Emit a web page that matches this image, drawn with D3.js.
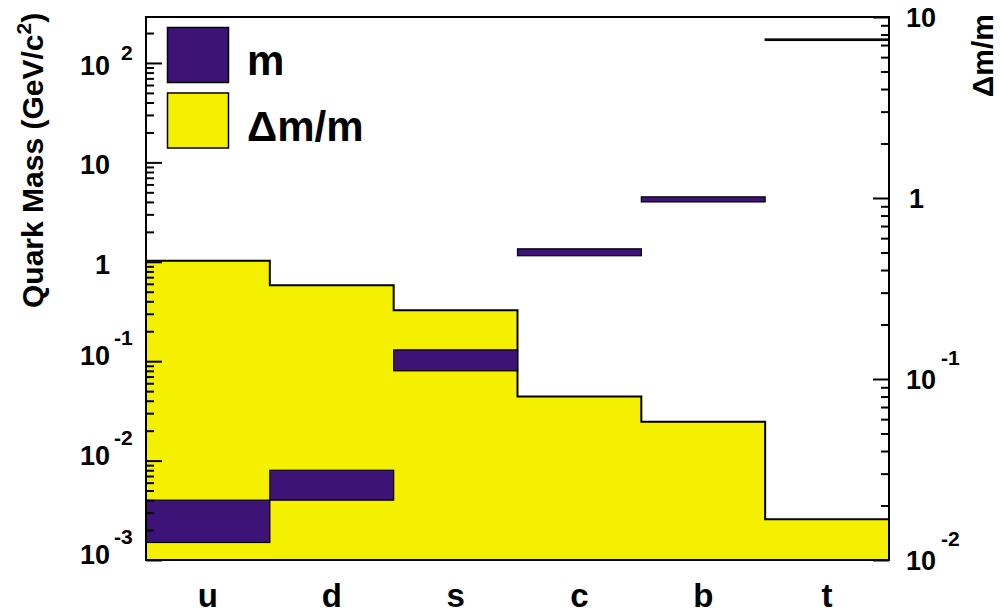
<!DOCTYPE html>
<html>
<head>
<meta charset="utf-8">
<script src="https://cdn.jsdelivr.net/npm/d3@7"></script>
<style>
  body { margin: 0; background: #fff; }
  svg text { font-family: "Liberation Sans", Arial, Helvetica, sans-serif; font-weight: bold; fill: #000; }
</style>
</head>
<body>
<svg width="1000" height="615"></svg>
<script>
// quark data (GeV/c^2)
var quarks = ['u', 'd', 's', 'c', 'b', 't'];
var massLow = [0.0015, 0.004, 0.080, 1.15, 4.0, 168.5];
var massHigh = [0.004, 0.008, 0.130, 1.35, 4.5, 174.3];
var relErr = [0.45, 0.33, 0.24, 0.080, 0.058, 0.0168];
var legendLabels = ['m', '\u0394m/m'];
var leftTicks = [100, 10, 1, 0.1, 0.01, 0.001];
var rightTicks = [10, 1, 0.1, 0.01];

var purple = '#3d1378';
var yellow = '#f5f000';

var x0 = 146, x1 = 889, yTop = 17, yBot = 560;
var svg = d3.select('svg');

var x = d3.scaleBand().domain(quarks).range([x0, x1]);
var yL = d3.scaleLog().domain([1e-3, 290]).range([yBot, yTop]);
var yR = d3.scaleLog().domain([1e-2, 10]).range([yBot, yTop]);
var bw = x.bandwidth();

/********** yellow relative-error histogram (right axis) **********/
var pts = [[x0, yBot]];
quarks.forEach(function(q, i) {
    pts.push([x(q), yR(relErr[i])]);
    pts.push([x(q) + bw, yR(relErr[i])]);
});
pts.push([x1, yBot]);
svg.append('path')
    .attr('d', d3.line()(pts) + 'Z')
    .attr('fill', yellow)
    .attr('stroke', '#000')
    .attr('stroke-width', 2)
    .attr('stroke-linejoin', 'miter');

/********** purple mass boxes (left axis) **********/
svg.selectAll('rect.mass')
    .data(quarks).enter().append('rect')
    .classed('mass', true)
    .attr('x', function(d) { return x(d); })
    .attr('width', bw)
    .attr('y', function(d, i) { return yL(massHigh[i]); })
    .attr('height', function(d, i) { return yL(massLow[i]) - yL(massHigh[i]); })
    .attr('fill', purple)
    .attr('stroke', '#000')
    .attr('stroke-width', 1.2);

/********** ticks **********/
function minors(fromExp, toExp) {
    var out = [];
    for (var e = fromExp; e <= toExp; e++) {
        for (var k = 2; k <= 9; k++) out.push(k * Math.pow(10, e));
    }
    return out;
}
var leftMinor = minors(-3, 1).concat([200]);
var rightMinor = minors(-2, 0);

function tickAxis(axis, pos, vals, size) {
    var g = svg.append('g')
        .attr('transform', 'translate(' + pos + ',0)')
        .call(axis.tickValues(vals).tickSize(size).tickFormat(''));
    g.select('.domain').remove();
    g.selectAll('line').attr('stroke', '#000').attr('stroke-width', 2);
}
tickAxis(d3.axisRight(yL), x0, leftTicks, 16);
tickAxis(d3.axisRight(yL), x0, leftMinor, 8);
tickAxis(d3.axisLeft(yR), x1, rightTicks, 16);
tickAxis(d3.axisLeft(yR), x1, rightMinor, 8);

// frame
svg.append('rect')
    .attr('x', x0).attr('y', yTop)
    .attr('width', x1 - x0).attr('height', yBot - yTop)
    .attr('fill', 'none').attr('stroke', '#000').attr('stroke-width', 2);

/********** tick labels **********/
function expOf(v) { return Math.round(Math.log10(v)); }

leftTicks.forEach(function(v) {
    var e = expOf(v), ty = yL(v);
    var plain = (e === 0 || e === 1);
    svg.append('text')
        .attr('x', 110)
        .attr('y', ty + (plain || e > 0 ? 12 : 4))
        .attr('text-anchor', 'end')
        .style('font-size', '27px')
        .text(e === 0 ? '1' : '10');
    if (!plain) {
        svg.append('text')
            .attr('x', e > 0 ? 121 : 114)
            .attr('y', e > 0 ? ty - 3 : ty - 16)
            .style('font-size', '21px')
            .text(e > 0 ? String(e) : '-' + (-e));
    }
});

rightTicks.forEach(function(v) {
    var e = expOf(v), ty = yR(v);
    var plain = (e === 0 || e === 1);
    svg.append('text')
        .attr('x', e === 0 ? 909 : 906)
        .attr('y', ty + 10)
        .style('font-size', '27px')
        .text(e === 0 ? '1' : '10');
    if (!plain) {
        svg.append('text')
            .attr('x', 941)
            .attr('y', ty - 14)
            .style('font-size', '21px')
            .text('-' + (-e));
    }
});

// category labels
svg.selectAll('text.cat')
    .data(quarks).enter().append('text')
    .classed('cat', true)
    .attr('x', function(d) { return x(d) + bw / 2; })
    .attr('y', 607)
    .attr('text-anchor', 'middle')
    .style('font-size', '33px')
    .text(function(d) { return d; });

/********** axis titles **********/
var lt = svg.append('text')
    .attr('transform', 'translate(43,308)rotate(-90)')
    .style('font-size', '30px');
lt.append('tspan').text('Quark Mass (GeV/c');
lt.append('tspan').attr('dy', -12).style('font-size', '21px').text('2');
lt.append('tspan').attr('dy', 12).text(')');

svg.append('text')
    .attr('transform', 'translate(993,14)rotate(-90)')
    .attr('text-anchor', 'end')
    .style('font-size', '30px')
    .text('\u0394m/m');

/********** legend **********/
var legend = svg.selectAll('g.legend')
    .data(legendLabels).enter().append('g')
    .classed('legend', true)
    .attr('transform', function(d, i) { return 'translate(0,' + (i * 65.5) + ')'; });
legend.append('rect')
    .attr('x', 167.5).attr('y', 27.5)
    .attr('width', 61).attr('height', 55)
    .attr('fill', function(d, i) { return i === 0 ? purple : yellow; })
    .attr('stroke', '#000').attr('stroke-width', 1.5);
legend.append('text')
    .attr('x', 247).attr('y', 75)
    .style('font-size', '42px')
    .text(function(d) { return d; });
</script>
</body>
</html>
